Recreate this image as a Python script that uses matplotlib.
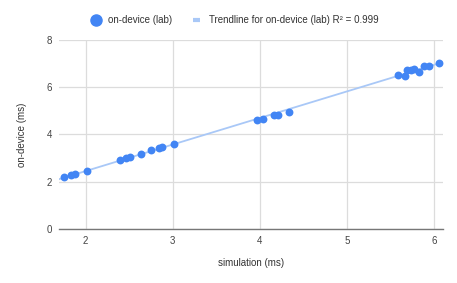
import matplotlib.pyplot as plt
import numpy as np

# simulation vs on-device timings (ms)
simulation = [1.75, 1.83, 1.88, 2.01, 2.39, 2.46, 2.51, 2.64, 2.75, 2.84, 2.88, 3.01,
              3.97, 4.04, 4.16, 4.21, 4.33,
              5.59, 5.66, 5.69, 5.74, 5.77, 5.83, 5.88, 5.94, 6.06]
on_device = [2.19, 2.29, 2.32, 2.45, 2.91, 3.00, 3.05, 3.16, 3.32, 3.42, 3.46, 3.59,
             4.61, 4.65, 4.84, 4.82, 4.95,
             6.51, 6.48, 6.71, 6.74, 6.76, 6.64, 6.90, 6.89, 7.02]
x_ticks = [2, 3, 4, 5, 6]
y_ticks = [0, 2, 4, 6, 8]

plt.rcParams['font.family'] = ['Liberation Sans', 'DejaVu Sans']

fig = plt.figure(figsize=(4.57, 2.83), dpi=100)
ax = fig.add_axes([0.129, 0.191, 0.84, 0.668])

x = np.array(simulation)
y = np.array(on_device)
slope, icpt = np.polyfit(x, y, 1)
r2 = np.corrcoef(x, y)[0, 1] ** 2

xlim = (1.693, 6.1)
xs = np.array(xlim)
ax.plot(xs, slope * xs + icpt, color='#a9c8f7', lw=1.3, zorder=2)
ax.scatter(x, y, s=32, color='#4285f4', zorder=3, linewidths=0)

ax.set_xlim(*xlim)
ax.set_ylim(0, 8)
ax.set_xticks(x_ticks)
ax.set_yticks(y_ticks)
ax.grid(True, color='#dcdcdc', lw=0.9)
ax.set_axisbelow(True)
for side in ['top', 'right', 'left']:
    ax.spines[side].set_visible(False)
ax.spines['bottom'].set_color('#777777')
ax.spines['bottom'].set_linewidth(1.0)
ax.tick_params(length=0, labelsize=7, colors='#444444', pad=5)

ax.set_xlabel('simulation (ms)', fontsize=7, color='#333333', labelpad=9)
ax.set_ylabel('on-device (ms)', fontsize=7, color='#333333', labelpad=14)

# legend handles: big dot + short thick light line
h_dot = plt.Line2D([], [], ls='none', marker='o', ms=8, color='#4285f4')
h_line = plt.Line2D([], [], color='#a9c8f7', lw=3, solid_capstyle='butt')
fig.legend([h_dot, h_line],
           ['on-device (lab)', f'Trendline for on-device (lab) R² = {r2:.3f}'],
           loc='center', bbox_to_anchor=(0.515, 0.929),
           ncol=2, frameon=False, fontsize=7, labelcolor='#333333',
           handlelength=0.7, handletextpad=0.9, columnspacing=2.2)

fig.savefig('out.png', dpi=100)
